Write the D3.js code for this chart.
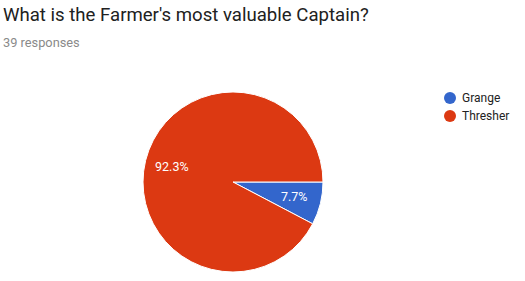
<!DOCTYPE html>
<html lang="en">
<head>
<meta charset="utf-8">
<title>What is the Farmer's most valuable Captain?</title>
<script src="https://d3js.org/d3.v7.min.js"></script>
<style>
  body { margin: 0; background: #fff; }
  text { font-family: Roboto, Arial, sans-serif; }
</style>
</head>
<body>
<svg id="chart" width="525" height="281"></svg>
<script>
  // data: 39 responses
  const labels = ["Grange", "Thresher"];
  const counts = [3, 36];
  const colors = ["#3366cc", "#dc3912"];

  let svg = d3.select("#chart");

  // title and subtitle
  svg.append("text")
    .attr("x", 3).attr("y", 21)
    .style("font-size", "18.6px")
    .style("fill", "#212121")
    .text("What is the Farmer's most valuable Captain?");
  svg.append("text")
    .attr("x", 3).attr("y", 47)
    .style("font-size", "12.8px")
    .style("fill", "#8a8a8a")
    .text("39 responses");

  const cx = 233, cy = 182, r = 90;
  const total = d3.sum(counts);

  let color = d3.scaleOrdinal().domain(labels).range(colors);

  // google charts start at 3 o'clock and go clockwise
  let pie = d3.pie()
    .sort(null)
    .value(d => d.value)
    .startAngle(Math.PI / 2)
    .endAngle(Math.PI / 2 + 2 * Math.PI);

  let arcs = pie(labels.map((l, i) => ({ label: l, value: counts[i] })));
  let arc = d3.arc().innerRadius(0).outerRadius(r);

  let g = svg.append("g").attr("transform", `translate(${cx},${cy})`);

  g.selectAll("path")
    .data(arcs)
    .enter()
    .append("path")
    .attr("d", arc)
    .style("fill", d => color(d.data.label))
    .style("stroke", "#fff")
    .style("stroke-width", 1);

  // percent labels inside slices
  let labelArc = d3.arc().innerRadius(r * 0.7).outerRadius(r * 0.7);
  g.selectAll(".pct")
    .data(arcs)
    .enter()
    .append("text")
    .attr("class", "pct")
    .attr("transform", d => `translate(${labelArc.centroid(d)})`)
    .attr("text-anchor", "middle")
    .attr("dy", "0.35em")
    .style("font-size", "12.5px")
    .style("fill", "#fff")
    .text(d => (d.data.value / total * 100).toFixed(1) + "%");

  // legend
  let leg = svg.append("g").attr("transform", "translate(450,98)");
  let items = leg.selectAll(".item")
    .data(labels)
    .enter()
    .append("g")
    .attr("class", "item")
    .attr("transform", (d, i) => `translate(0,${i * 18})`);
  items.append("circle")
    .attr("r", 6)
    .style("fill", d => color(d));
  items.append("text")
    .attr("x", 12)
    .attr("dy", "0.35em")
    .style("font-size", "12px")
    .style("fill", "#222")
    .text(d => d);
</script>
</body>
</html>
